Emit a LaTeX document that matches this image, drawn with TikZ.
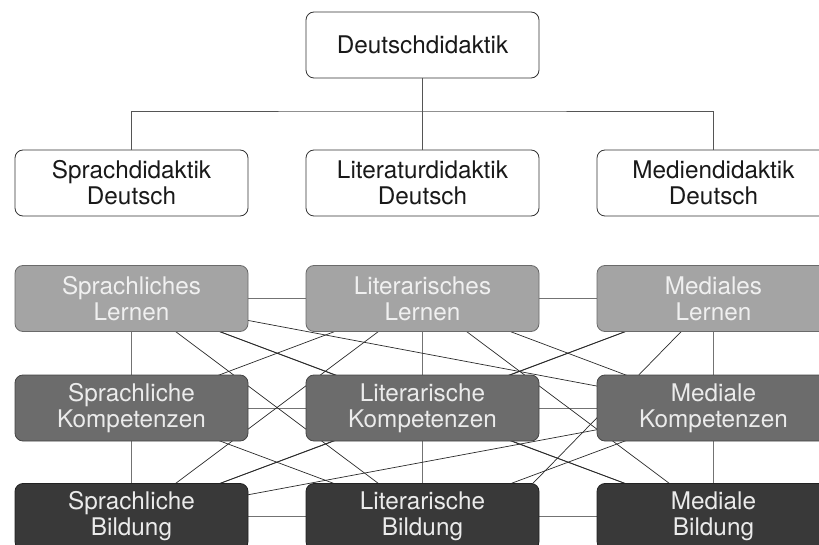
\documentclass[tikz,border=0pt]{standalone}
\usepackage{fontspec}
\setmainfont{TeX Gyre Heros}
\usetikzlibrary{backgrounds}
\definecolor{lernfill}{HTML}{A4A4A4}
\definecolor{lerndraw}{HTML}{6A6A6A}
\definecolor{kompfill}{HTML}{6C6C6C}
\definecolor{kompdraw}{HTML}{444444}
\definecolor{bildfill}{HTML}{393939}
\definecolor{bilddraw}{HTML}{222222}
\definecolor{linecol}{HTML}{2A2A2A}
\definecolor{treecol}{HTML}{555555}
\begin{document}
\begin{tikzpicture}[x=1pt,y=-1pt,
  box/.style={rounded corners=8pt, minimum width=233pt, minimum height=66pt,
    inner sep=0pt, align=center, font=\fontsize{24.3}{26}\selectfont, line width=0.8pt},
  whitebox/.style={box, draw=black!80, fill=white, text=black!90},
  lernbox/.style={box, draw=lerndraw, fill=lernfill, text=white!94!black},
  kompbox/.style={box, draw=kompdraw, fill=kompfill, text=white!92!black},
  bildbox/.style={box, draw=bilddraw, fill=bildfill, text=white!92!black},
  tree/.style={draw=treecol, line width=0.8pt},
  link/.style={draw=linecol, line width=0.7pt},
  hlink/.style={draw=black!55, line width=0.8pt}]
\useasboundingbox (0,0) rectangle (819,545);
\begin{scope}
\clip (0,0) rectangle (819,545);
\node[whitebox] (D) at (422.5,45) {Deutschdidaktik};
\node[whitebox] (SD) at (131.5,183) {Sprachdidaktik\\Deutsch};
\node[whitebox] (LD) at (422.5,183) {Literaturdidaktik\\Deutsch};
\node[whitebox] (MD) at (713.5,183) {Mediendidaktik\\Deutsch};
\coordinate (T) at (422.5,111);
\draw[tree] (D.south) -- (LD.north);
\draw[tree] (SD.north) |- (T) -| (MD.north);

\node[lernbox] (L1) at (131.5,298.5) {Sprachliches\\Lernen};
\node[lernbox] (L2) at (422.5,298.5) {Literarisches\\Lernen};
\node[lernbox] (L3) at (713.5,298.5) {Mediales\\Lernen};
\node[kompbox] (K1) at (131.5,408) {Sprachliche\\Kompetenzen};
\node[kompbox] (K2) at (422.5,408) {Literarische\\Kompetenzen};
\node[kompbox] (K3) at (713.5,408) {Mediale\\Kompetenzen};
\node[bildbox] (B1) at (131.5,516.5) {Sprachliche\\Bildung};
\node[bildbox] (B2) at (422.5,516.5) {Literarische\\Bildung};
\node[bildbox] (B3) at (713.5,516.5) {Mediale\\Bildung};
\coordinate (B2r) at (500.5,516.5);

\begin{pgfonlayer}{background}
  % horizontal and vertical links
  \foreach \a/\b in {L1/L2,L2/L3,K1/K2,K2/K3,B1/B2,B2/B3,L1/K1,K1/B1,L2/K2,K2/B2,L3/K3,K3/B3}
    \draw[hlink] (\a.center) -- (\b.center);
  % diagonal links
  \foreach \a/\b in {L1/K2,L1/K3,L1/B2,L2/K1,L2/K3,L2/B1,L2/B3,L3/K2,L3/B1,
                     K1/B2,K2/B1,K2/B3,K3/B1,K3/B2,L1/B3}
    \draw[link] (\a.center) -- (\b.center);
  \draw[link] (L3.center) -- (B2r);
\end{pgfonlayer}
\end{scope}
\end{tikzpicture}
\end{document}
